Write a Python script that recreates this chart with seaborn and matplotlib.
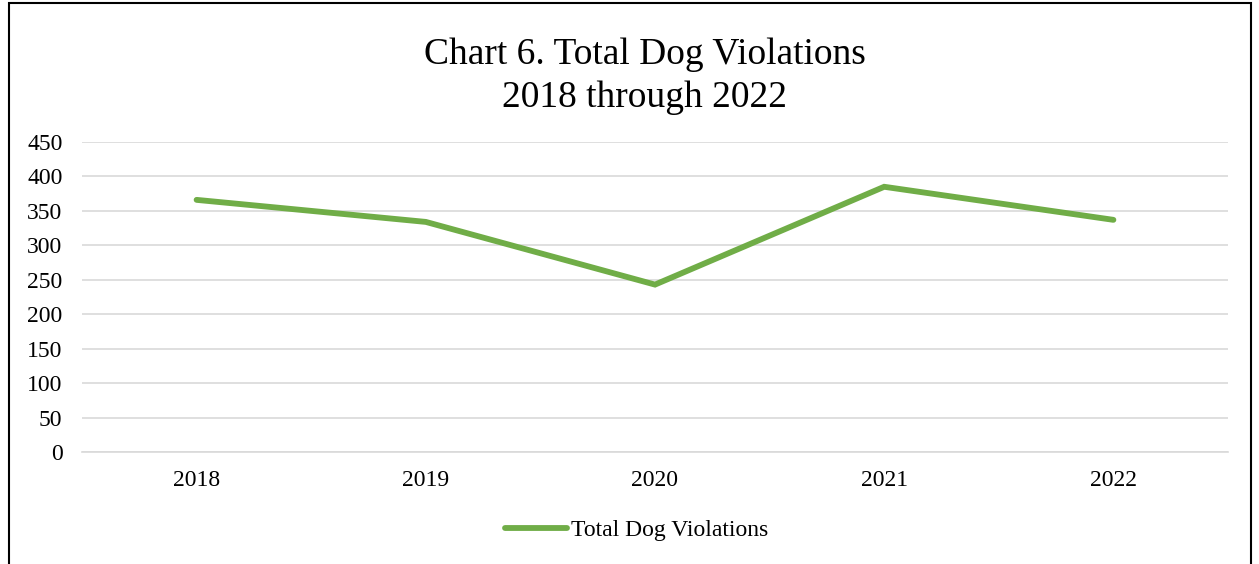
import matplotlib
matplotlib.use("Agg")
import matplotlib.pyplot as plt
import seaborn as sns
import pandas as pd
from matplotlib.patches import Rectangle
from matplotlib.lines import Line2D

years = ["2018", "2019", "2020", "2021", "2022"]
violations = [366, 334, 243, 385, 337]
series_name = "Total Dog Violations"
y_ticks = [0, 50, 100, 150, 200, 250, 300, 350, 400, 450]

sns.set_style("white")
plt.rcParams['font.family'] = ['Liberation Serif', 'DejaVu Serif']
plt.rcParams['text.color'] = 'black'
plt.rcParams['xtick.color'] = 'black'
plt.rcParams['ytick.color'] = 'black'

df = pd.DataFrame({"Year": years, "Violations": violations, "Series": series_name})

fig = plt.figure(figsize=(12.59, 5.64), dpi=100)
ax = fig.add_axes([82/1259, 1 - 452/564, (1228-82)/1259, (452-142)/564])

sns.lineplot(data=df, x="Year", y="Violations", hue="Series", palette=["#70AD47"],
             linewidth=4.2, ax=ax, solid_capstyle="round", solid_joinstyle="miter",
             legend=False, sort=False)

ax.set_xlim(-0.5, 4.5)
ax.set_ylim(0, 450)
ax.set_yticks(y_ticks)
ax.set_yticklabels([str(t) for t in y_ticks], fontsize=17)
ax.set_xticks(range(len(years)))
ax.set_xticklabels(years, fontsize=17)
ax.tick_params(axis="x", length=0, pad=13)
ax.tick_params(axis="y", length=0, pad=14)
ax.set_xlabel("")
ax.set_ylabel("")
ax.grid(axis="y", color="#D9D9D9", linewidth=1.2)
ax.set_axisbelow(True)
for s in ["top", "right", "left"]:
    ax.spines[s].set_visible(False)
ax.spines["bottom"].set_color("#D9D9D9")
ax.spines["bottom"].set_linewidth(1.2)

fig.text(645/1259, 1 - 55/564, "Chart 6. Total Dog Violations", ha="center", va="center", fontsize=27)
fig.text(645/1259, 1 - 98/564, "2018 through 2022", ha="center", va="center", fontsize=27)

handle = Line2D([], [], color="#70AD47", linewidth=4.2, solid_capstyle="round")
fig.legend([handle], [series_name], loc="center", bbox_to_anchor=(637/1259, 1 - 530/564),
           frameon=False, fontsize=17, handlelength=2.6, handletextpad=0.2)

fig.patches.append(Rectangle((9/1259, -0.05), (1251-9)/1259, 1.05 - 3/564, transform=fig.transFigure,
                             fill=False, edgecolor="black", linewidth=1.5))

fig.savefig("out.png", dpi=100, facecolor="white")
